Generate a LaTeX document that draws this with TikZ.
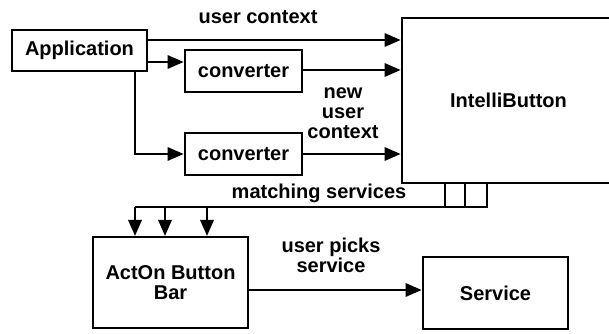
\documentclass[tikz,border=0pt]{standalone}
\usepackage{fontspec}
\setmainfont{Liberation Sans}
\usetikzlibrary{arrows.meta}
\newcommand{\diafont}{\fontsize{15}{15}\selectfont\bfseries}
\tikzset{
  blk/.style={draw, line width=1.8pt, inner sep=0pt, align=center, font=\diafont},
  arr/.style={line width=1.6pt, -{Triangle[length=12pt,width=10pt]}},
  lbl/.style={font=\diafont, align=center, inner sep=0pt}
}
\begin{document}
\begin{tikzpicture}[x=0.75pt, y=-0.75pt] %1
            \useasboundingbox (0,0) rectangle (609,334);
            \clip (0,0) rectangle (609,334);

            \node[blk, minimum width=101pt, minimum height=31pt] (app) at (79.5,50.5) {Application};
            \node[blk, minimum width=88pt, minimum height=31.5pt] (conv1) at (243.5,71) {converter};
            \node[blk, minimum width=88pt, minimum height=31.5pt] (conv2) at (243.5,154) {converter};
            \node[blk, minimum width=160pt, minimum height=124pt] (ib) at (508.5,100.5) {IntelliButton};
            \node[blk, minimum width=116pt, minimum height=68pt] (acton) at (170.5,282.5) {ActOn Button\\Bar};
            \node[blk, minimum width=109pt, minimum height=54pt] (svc) at (495.5,293) {Service};

            \node[lbl, anchor=base] (uc) at (258,24) {user context};
            \node[lbl] (nuc) at (343,113) {new\\user\\context};
            \node[lbl, anchor=base] (ms) at (319,199) {matching services};
            \node[lbl] (ups) at (331,255) {user picks\\service};

            \draw[arr] (app.east |- 0,40) -- (ib.west |- 0,40);
            \draw[arr] (app.east |- 0,62) -- (conv1.west |- 0,62);
            \draw[arr] (conv1.east |- 0,70) -- (ib.west |- 0,70);
            \draw[arr] (app.south -| 135,0) |- (conv2.west);
            \draw[arr] (conv2.east) -- (conv2.east -| ib.west);

            \coordinate (bus) at (487,207);
            \draw[line width=1.6pt] (ib.south -| bus) -- (bus) -- (135,207);
            \foreach \x in {445,465}
                \draw[line width=1pt] (ib.south -| \x,0) -- (\x,207);
            \foreach \x in {135,165,207}
                \draw[arr] (\x,207) -- (acton.north -| \x,0);
            \draw[arr] (acton.east |- 0,290) -- (svc.west |- 0,290);
        \end{tikzpicture}
\end{document}
